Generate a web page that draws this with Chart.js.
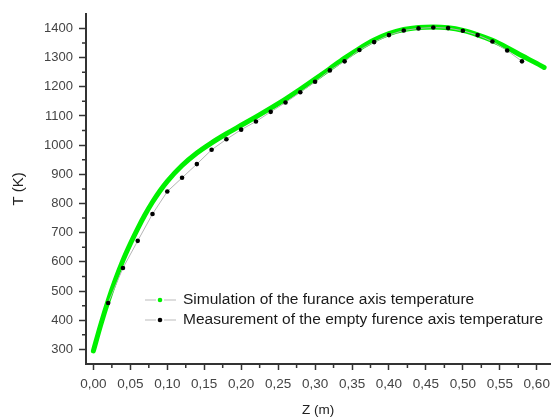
<!DOCTYPE html>
<html>
<head>
<meta charset="utf-8">
<script src="https://cdn.jsdelivr.net/npm/chart.js@4/dist/chart.umd.min.js"></script>
<style>
  html, body { margin: 0; padding: 0; background: #fff; }
  #wrap { width: 556px; height: 418px; }
</style>
</head>
<body>
<div id="wrap"><canvas id="chart" width="556" height="418"></canvas></div>
<script>
// simulation curve
const simZ = [0, 0.01, 0.02, 0.03, 0.04, 0.05, 0.06, 0.07, 0.08, 0.09, 0.10, 0.12, 0.14, 0.16, 0.18, 0.20,
  0.22, 0.24, 0.26, 0.28, 0.30, 0.32, 0.34, 0.36, 0.38, 0.40, 0.42, 0.44, 0.46, 0.48, 0.50, 0.52, 0.54,
  0.56, 0.58, 0.60, 0.61];
const simT = [295, 385, 467, 540, 605, 662, 714, 762, 805, 843, 876, 930, 973, 1008, 1039, 1068,
  1097, 1127, 1158, 1191, 1226, 1262, 1298, 1331, 1360, 1382, 1396, 1403, 1405, 1402, 1393, 1378, 1359,
  1334, 1306, 1280, 1266];

// measured points
const measZ = [0.02, 0.04, 0.06, 0.08, 0.10, 0.12, 0.14, 0.16, 0.18, 0.20, 0.22, 0.24, 0.26, 0.28, 0.30,
  0.32, 0.34, 0.36, 0.38, 0.40, 0.42, 0.44, 0.46, 0.48, 0.50, 0.52, 0.54, 0.56, 0.58];
const measT = [459, 579, 672, 764, 841, 888, 935, 984, 1020, 1053, 1081, 1114, 1146, 1181, 1217,
  1256, 1287, 1326, 1353, 1377, 1393, 1400, 1403, 1401, 1392, 1377, 1355, 1324, 1287];

const xTicks = [0, 0.05, 0.10, 0.15, 0.20, 0.25, 0.30, 0.35, 0.40, 0.45, 0.50, 0.55, 0.60];
const yTicks = [300, 400, 500, 600, 700, 800, 900, 1000, 1100, 1200, 1300, 1400];
const xMinor = [0.025, 0.075, 0.125, 0.175, 0.225, 0.275, 0.325, 0.375, 0.425, 0.475, 0.525, 0.575];
const yMinor = [350, 450, 550, 650, 750, 850, 950, 1050, 1150, 1250, 1350];

const labels = ['Simulation of the furance axis temperature', 'Measurement of the empty furence axis temperature'];

const FONT = 'Liberation Sans, Arial, sans-serif';
const AXIS = '#333333';
const GREEN = '#00f000';

const minorTicks = {
  id: 'minorTicks',
  afterDraw(chart) {
    const ctx = chart.ctx;
    const xs = chart.scales.x, ys = chart.scales.y;
    const area = chart.chartArea;
    ctx.save();
    ctx.strokeStyle = AXIS;
    ctx.lineWidth = 1.5;
    ctx.beginPath();
    xMinor.forEach(v => {
      const px = xs.getPixelForValue(v);
      ctx.moveTo(px, area.bottom);
      ctx.lineTo(px, area.bottom + 4);
    });
    yMinor.forEach(v => {
      const py = ys.getPixelForValue(v);
      ctx.moveTo(area.left, py);
      ctx.lineTo(area.left - 4, py);
    });
    ctx.stroke();
    ctx.restore();
  }
};

const legendBox = {
  id: 'legendBox',
  afterDraw(chart) {
    const ctx = chart.ctx;
    const sets = [chart.data.datasets[1], chart.data.datasets[0]];
    ctx.save();
    ctx.font = '15.5px ' + FONT;
    ctx.textBaseline = 'middle';
    sets.forEach((ds, i) => {
      const y = 300 + i * 20;
      ctx.strokeStyle = '#bbbbbb';
      ctx.lineWidth = 1;
      ctx.beginPath();
      ctx.moveTo(145, y); ctx.lineTo(156, y);
      ctx.moveTo(164, y); ctx.lineTo(176, y);
      ctx.stroke();
      ctx.fillStyle = ds.legendDot;
      ctx.beginPath();
      ctx.arc(160, y, 2.3, 0, Math.PI * 2);
      ctx.fill();
      ctx.fillStyle = '#1a1a1a';
      ctx.fillText(ds.label, 183, y);
    });
    ctx.restore();
  }
};

new Chart(document.getElementById('chart'), {
  type: 'line',
  data: {
    datasets: [
      {
        label: labels[1],
        data: measZ.map((z, i) => ({ x: z, y: measT[i] })),
        borderColor: '#b4b4b4',
        borderWidth: 1,
        pointRadius: 2.3,
        pointBackgroundColor: '#000',
        pointBorderWidth: 0,
        tension: 0,
        legendDot: '#000',
        order: 0
      },
      {
        label: labels[0],
        data: simZ.map((z, i) => ({ x: z, y: simT[i] })),
        borderColor: GREEN,
        borderWidth: 5,
        borderCapStyle: 'round',
        pointRadius: 0,
        cubicInterpolationMode: 'monotone',
        legendDot: GREEN,
        order: 1
      }
    ]
  },
  options: {
    responsive: false,
    animation: false,
    layout: { padding: { top: 11, right: 4, left: 0, bottom: 0 } },
    plugins: { legend: { display: false }, tooltip: { enabled: false } },
    scales: {
      x: {
        type: 'linear',
        min: -0.01,
        max: 0.618,
        afterBuildTicks: s => { s.ticks = xTicks.map(v => ({ value: v })); },
        afterFit: s => { s.height = 54; },
        ticks: {
          color: '#444',
          font: { family: FONT, size: 13.5 },
          padding: 6,
          maxRotation: 0,
          callback: v => v.toFixed(2).replace('.', ',')
        },
        grid: { drawOnChartArea: false, tickLength: 6, tickColor: AXIS, tickWidth: 1.5 },
        border: { color: AXIS, width: 2 },
        title: {
          display: true,
          text: 'Z (m)',
          color: '#222',
          font: { family: FONT, size: 13.5 },
          padding: { top: 0, bottom: 0 }
        }
      },
      y: {
        min: 250,
        max: 1450,
        afterBuildTicks: s => { s.ticks = yTicks.map(v => ({ value: v })); },
        afterFit: s => { s.width = 86; },
        ticks: {
          color: '#444',
          font: { family: FONT, size: 13 },
          padding: 6,
          callback: v => String(v)
        },
        grid: { drawOnChartArea: false, tickLength: 7, tickColor: AXIS, tickWidth: 1.5 },
        border: { color: AXIS, width: 2 },
        title: {
          display: true,
          text: 'T (K)',
          color: '#222',
          font: { family: FONT, size: 15 },
          padding: { top: 10, bottom: 0 }
        }
      }
    }
  },
  plugins: [minorTicks, legendBox]
});
</script>
</body>
</html>
